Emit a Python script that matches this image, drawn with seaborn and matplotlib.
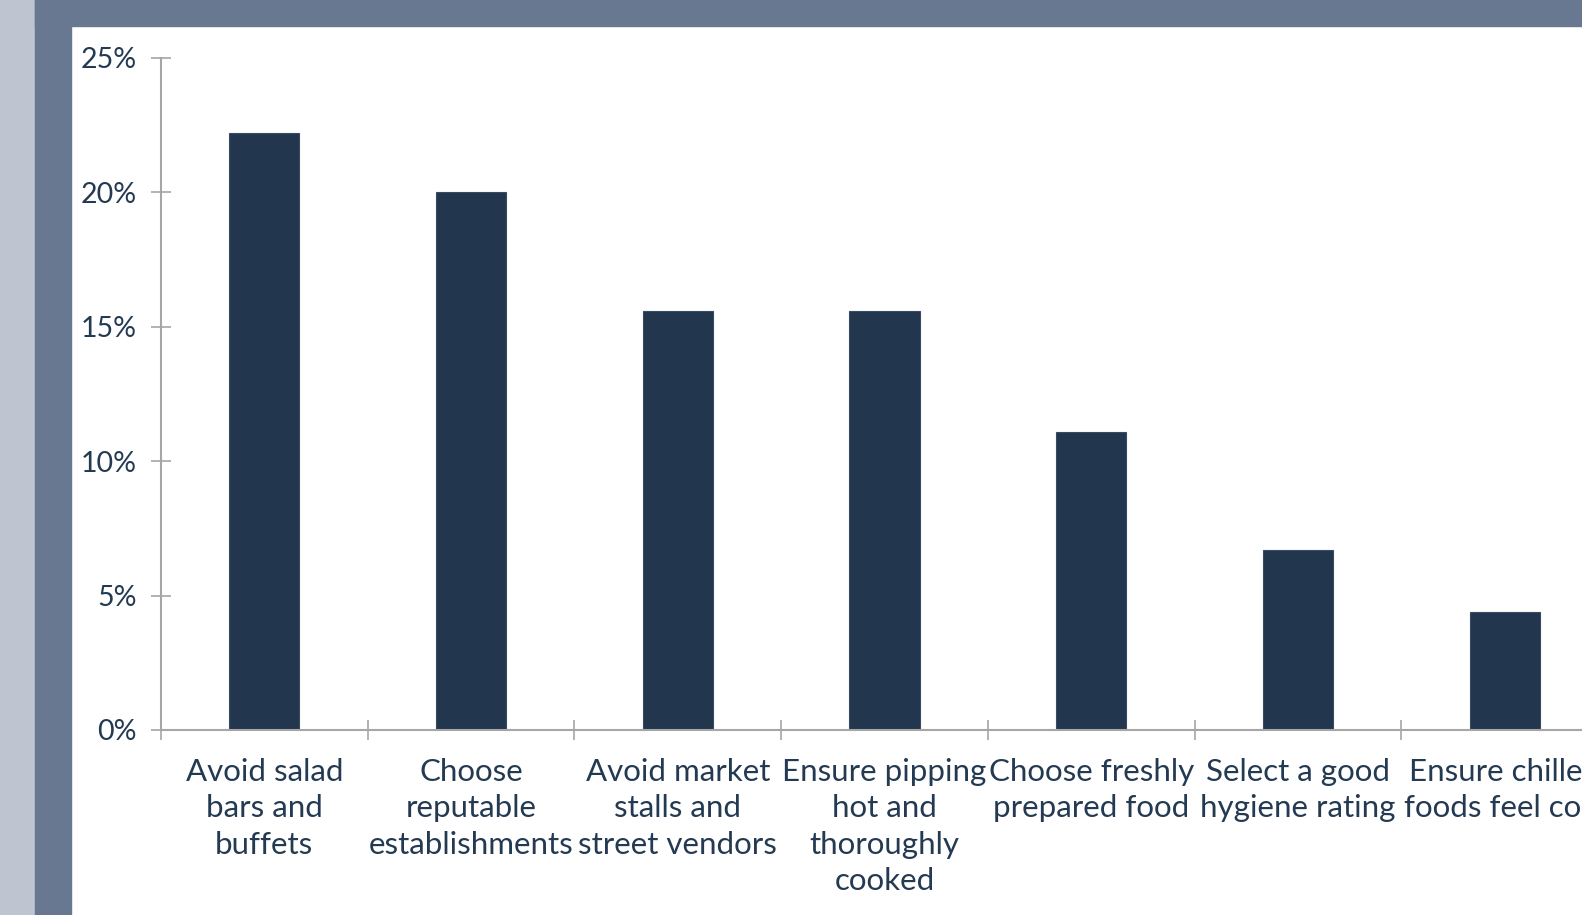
import matplotlib
matplotlib.use("Agg")
import matplotlib.pyplot as plt
import seaborn as sns
import pandas as pd
from matplotlib.patches import Rectangle
from matplotlib.ticker import PercentFormatter, MultipleLocator

# data
categories = [
    "Avoid salad\nbars and\nbuffets",
    "Choose\nreputable\nestablishments",
    "Avoid market\nstalls and\nstreet vendors",
    "Ensure pipping\nhot and\nthoroughly\ncooked",
    "Choose freshly\nprepared food",
    "Select a good\nhygiene rating",
    "Ensure chilled\nfoods feel cold",
]
values = [22.2, 20.0, 15.6, 15.6, 11.1, 6.7, 4.4]

df = pd.DataFrame({"tip": categories, "share": values})

sns.set_style("white")
plt.rcParams["font.family"] = ["Lato", "DejaVu Sans"]

text_col = "#243a52"
bar_col = "#22364d"
axis_col = "#a6a6a6"

fig = plt.figure(figsize=(15.82, 9.15), dpi=100)
W, H = 1582, 915

# slide frame around the chart
fig.patches.append(Rectangle((0, 0), 35 / W, 1, transform=fig.transFigure,
                             color="#bec5d1", zorder=0))
fig.patches.append(Rectangle((35 / W, 0), 36 / W, 1, transform=fig.transFigure,
                             color="#687890", zorder=0))
fig.patches.append(Rectangle((35 / W, 1 - 26 / H), 1, 26 / H, transform=fig.transFigure,
                             color="#687890", zorder=0))

# axes runs a bit past the right edge, like the cropped original
ax = fig.add_axes([161 / W, 185 / H, 1447 / W, 672 / H])
ax.patch.set_alpha(0)

sns.barplot(data=df, x="tip", y="share", color=bar_col, saturation=1,
            width=0.34, ax=ax, edgecolor="#3a4c63", linewidth=0.8)

ax.set_xlim(-0.5, len(categories) - 0.5)
ax.set_ylim(0, 25)
ax.yaxis.set_major_locator(MultipleLocator(5))
ax.yaxis.set_major_formatter(PercentFormatter(decimals=0))
ax.set_xlabel("")
ax.set_ylabel("")

for side in ["top", "right"]:
    ax.spines[side].set_visible(False)
for side in ["left", "bottom"]:
    ax.spines[side].set_color(axis_col)
    ax.spines[side].set_linewidth(1.5)

ax.set_xticks(range(len(categories)))
ax.set_xticklabels(categories)
ax.set_xticks([i - 0.5 for i in range(len(categories) + 1)], minor=True)
ax.tick_params(axis="x", which="major", bottom=False, length=0, pad=20,
               labelsize=22.5, labelcolor=text_col)
ax.tick_params(axis="x", which="minor", bottom=True, direction="inout",
               length=15, width=1.2, color=axis_col)
ax.tick_params(axis="y", left=True, direction="inout", length=15, width=1.2,
               color=axis_col, pad=10, labelsize=20.5, labelcolor=text_col)
plt.setp(ax.get_xticklabels(), linespacing=1.37)

fig.savefig("out.png", dpi=100)
